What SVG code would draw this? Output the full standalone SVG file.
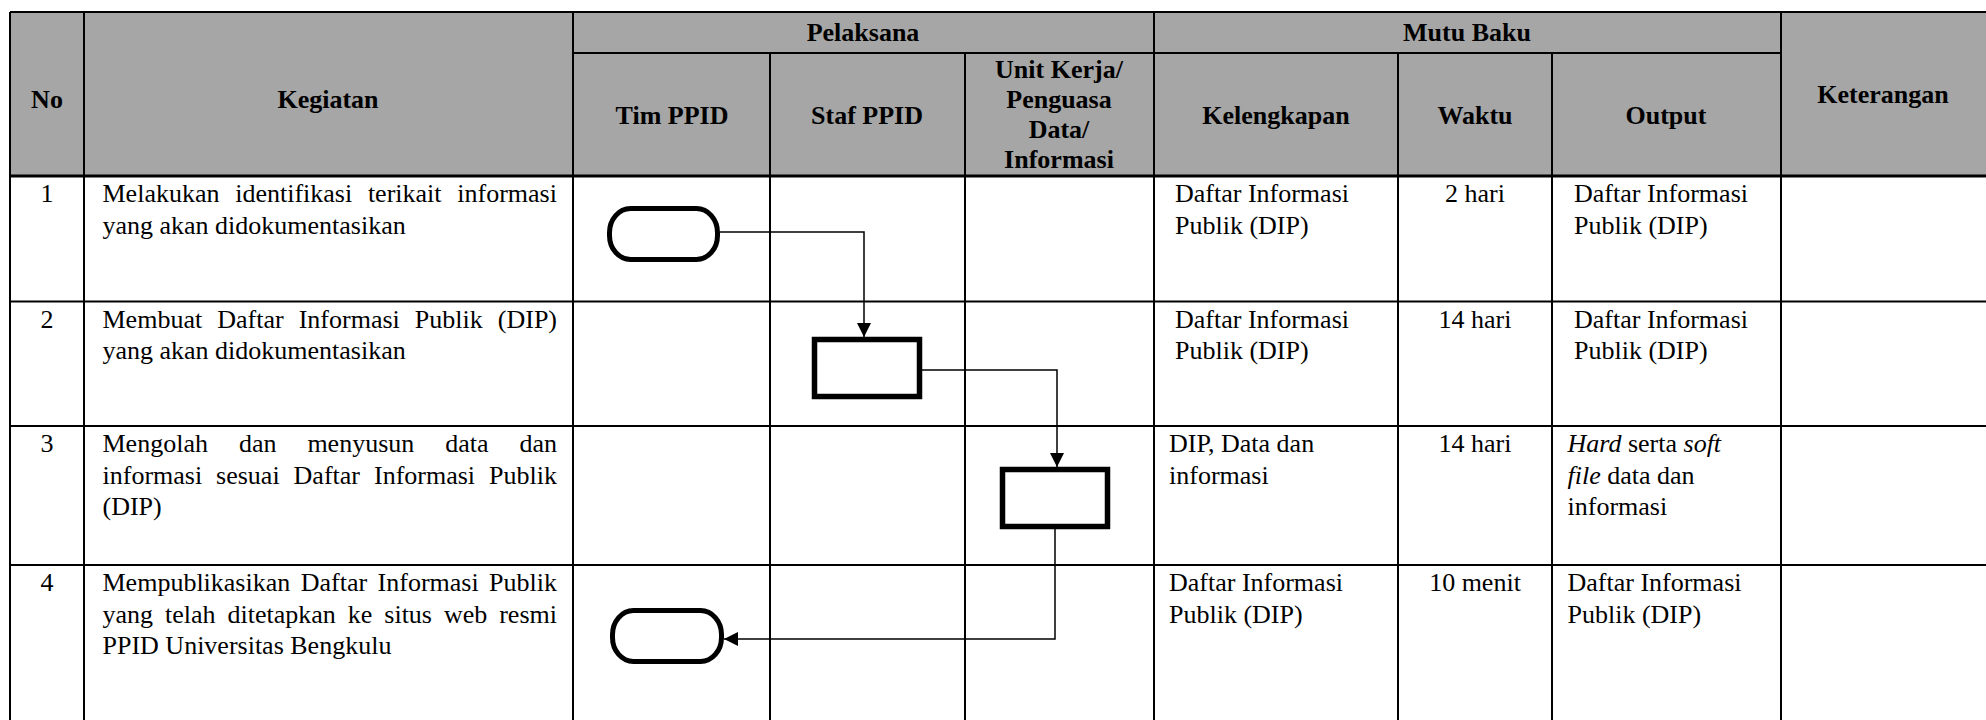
<svg xmlns="http://www.w3.org/2000/svg" width="1986" height="720" viewBox="0 0 1986 720" font-family="'Liberation Serif', 'DejaVu Serif', serif">
<style>
  text { font-family: 'Liberation Serif', 'DejaVu Serif', serif; font-size: 26px; fill: #000; }
  .h { font-weight: bold; text-anchor: middle; }
  .c { text-anchor: middle; }
  .i { font-style: italic; }
  .grid line { stroke: #000; stroke-width: 2; }
  .grid line.thick { stroke-width: 3; }
  .term { fill: #fff; stroke: #000; stroke-width: 5; }
  .proc { fill: #fff; stroke: #000; stroke-width: 5.5; }
  .conn path { fill: none; stroke: #000; stroke-width: 1.5; }
</style>
<defs>
  <marker id="arrow" viewBox="0 0 14 14" refX="14" refY="7" markerWidth="14" markerHeight="14" markerUnits="userSpaceOnUse" orient="auto">
    <path d="M0,0 L14,7 L0,14 z" fill="#000"/>
  </marker>
</defs>
<rect x="0" y="0" width="1986" height="720" fill="#fff"/>
<rect x="10" y="12" width="1976" height="164" fill="#a6a6a6"/>

<g class="grid" id="table-grid">
  <line x1="10" y1="12" x2="1986" y2="12"/>
  <line x1="573" y1="53" x2="1781" y2="53"/>
  <line class="thick" x1="10" y1="176" x2="1986" y2="176"/>
  <line x1="10" y1="301.5" x2="1986" y2="301.5"/>
  <line x1="10" y1="426" x2="1986" y2="426"/>
  <line x1="10" y1="565" x2="1986" y2="565"/>
  <line x1="10" y1="12" x2="10" y2="720"/>
  <line x1="84" y1="12" x2="84" y2="720"/>
  <line x1="573" y1="12" x2="573" y2="720"/>
  <line x1="1154" y1="12" x2="1154" y2="720"/>
  <line x1="1781" y1="12" x2="1781" y2="720"/>
  <line x1="770" y1="53" x2="770" y2="720"/>
  <line x1="965" y1="53" x2="965" y2="720"/>
  <line x1="1398" y1="53" x2="1398" y2="720"/>
  <line x1="1552" y1="53" x2="1552" y2="720"/>
</g>

<g id="header-text">
  <text class="h" x="47" y="108">No</text>
  <text class="h" x="328" y="108">Kegiatan</text>
  <text class="h" x="863" y="41">Pelaksana</text>
  <text class="h" x="1467" y="41">Mutu Baku</text>
  <text class="h" x="1883" y="103">Keterangan</text>
  <text class="h" x="672" y="124">Tim PPID</text>
  <text class="h" x="867" y="124">Staf PPID</text>
  <text class="h" x="1059" y="78">Unit Kerja/</text>
  <text class="h" x="1059" y="108">Penguasa</text>
  <text class="h" x="1059" y="138">Data/</text>
  <text class="h" x="1059" y="168">Informasi</text>
  <text class="h" x="1276" y="124">Kelengkapan</text>
  <text class="h" x="1475" y="124">Waktu</text>
  <text class="h" x="1666" y="124">Output</text>
</g>

<g id="row-1">
  <text class="c" x="47" y="202">1</text>
  <text y="202"><tspan x="102.5">Melakukan</tspan><tspan x="235.2">identifikasi</tspan><tspan x="367.9">terikait</tspan><tspan x="457.3">informasi</tspan></text>
  <text x="102.5" y="233.5">yang akan didokumentasikan</text>
  <text x="1175" y="202">Daftar Informasi</text>
  <text x="1175" y="233.5">Publik (DIP)</text>
  <text class="c" x="1475" y="202">2 hari</text>
  <text x="1574" y="202">Daftar Informasi</text>
  <text x="1574" y="233.5">Publik (DIP)</text>
</g>

<g id="row-2">
  <text class="c" x="47" y="327.5">2</text>
  <text y="327.5"><tspan x="102.5">Membuat</tspan><tspan x="217.2">Daftar</tspan><tspan x="298.7">Informasi</tspan><tspan x="414.8">Publik</tspan><tspan x="497.8">(DIP)</tspan></text>
  <text x="102.5" y="359">yang akan didokumentasikan</text>
  <text x="1175" y="327.5">Daftar Informasi</text>
  <text x="1175" y="359">Publik (DIP)</text>
  <text class="c" x="1475" y="327.5">14 hari</text>
  <text x="1574" y="327.5">Daftar Informasi</text>
  <text x="1574" y="359">Publik (DIP)</text>
</g>

<g id="row-3">
  <text class="c" x="47" y="452">3</text>
  <text y="452"><tspan x="102.5">Mengolah</tspan><tspan x="238.9">dan</tspan><tspan x="307.4">menyusun</tspan><tspan x="445.2">data</tspan><tspan x="519.5">dan</tspan></text>
  <text y="483.5"><tspan x="102.5">informasi</tspan><tspan x="216.1">sesuai</tspan><tspan x="293.6">Daftar</tspan><tspan x="374">Informasi</tspan><tspan x="489.1">Publik</tspan></text>
  <text x="102.5" y="515">(DIP)</text>
  <text x="1169" y="452">DIP, Data dan</text>
  <text x="1169" y="483.5">informasi</text>
  <text class="c" x="1475" y="452">14 hari</text>
  <text x="1567.5" y="452"><tspan class="i">Hard</tspan> serta <tspan class="i">soft</tspan></text>
  <text x="1567.5" y="483.5"><tspan class="i">file</tspan> data dan</text>
  <text x="1567.5" y="515">informasi</text>
</g>

<g id="row-4">
  <text class="c" x="47" y="591">4</text>
  <text y="591"><tspan x="102.5">Mempublikasikan</tspan><tspan x="300.7">Daftar</tspan><tspan x="377.6">Informasi</tspan><tspan x="489.1">Publik</tspan></text>
  <text y="622.5"><tspan x="102.5">yang</tspan><tspan x="165">telah</tspan><tspan x="227.5">ditetapkan</tspan><tspan x="347.8">ke</tspan><tspan x="384.3">situs</tspan><tspan x="443.9">web</tspan><tspan x="499.2">resmi</tspan></text>
  <text x="102.5" y="654">PPID Universitas Bengkulu</text>
  <text x="1169" y="591">Daftar Informasi</text>
  <text x="1169" y="622.5">Publik (DIP)</text>
  <text class="c" x="1475" y="591">10 menit</text>
  <text x="1567.5" y="591">Daftar Informasi</text>
  <text x="1567.5" y="622.5">Publik (DIP)</text>
</g>

<g id="node-start">
  <rect class="term" x="609.5" y="208.5" width="108" height="51" rx="21" ry="24"/>
</g>
<g id="node-staf">
  <rect class="proc" x="814.5" y="339.5" width="105" height="57"/>
</g>
<g id="node-unit">
  <rect class="proc" x="1002.5" y="469.5" width="105" height="57"/>
</g>
<g id="node-end">
  <rect class="term" x="612.5" y="610.5" width="109" height="51" rx="21" ry="24"/>
</g>

<g class="conn" id="connectors">
  <path d="M720,232 H864 V337" marker-end="url(#arrow)"/>
  <path d="M922,370 H1057 V467" marker-end="url(#arrow)"/>
  <path d="M1055,529 V639 H724" marker-end="url(#arrow)"/>
</g>
</svg>
